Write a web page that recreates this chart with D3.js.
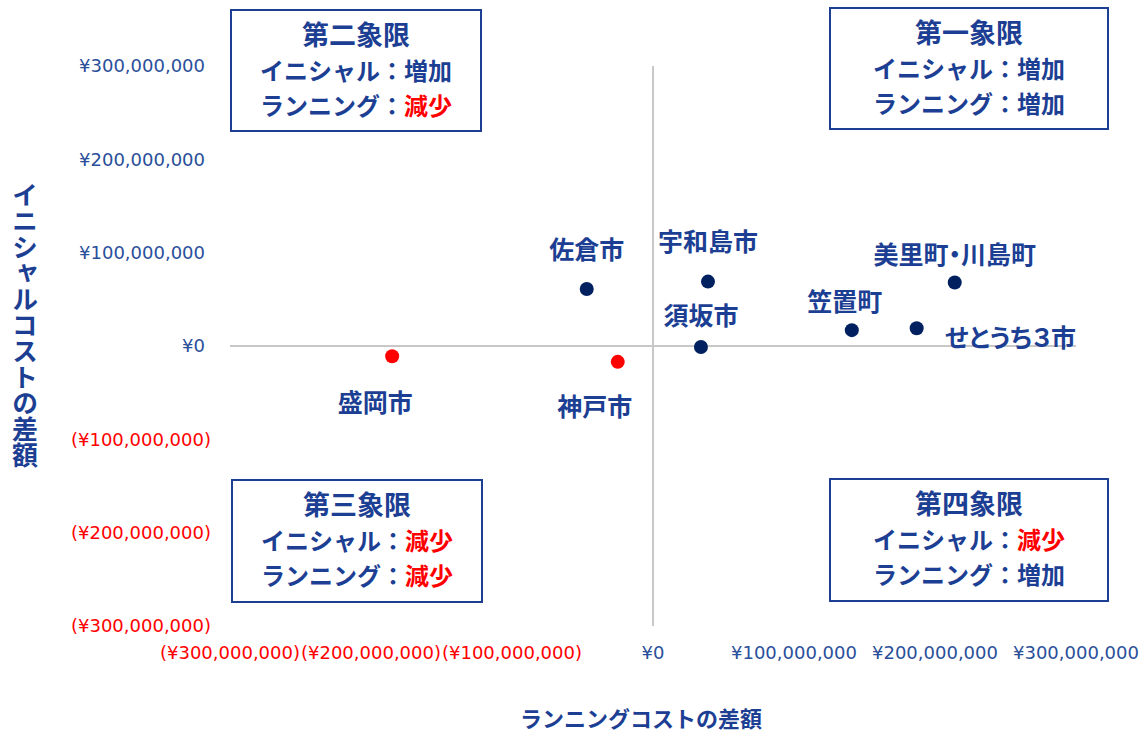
<!DOCTYPE html>
<html>
<head>
<meta charset="utf-8">
<script src="https://cdn.jsdelivr.net/npm/d3@7"></script>
<style>
  body { margin: 0; background: #fff; }
  svg { display: block; }
  .jp { font-family: "Noto Sans CJK JP", "Noto Sans", sans-serif; font-weight: bold; }
  .tick-label { font-family: "DejaVu Sans", Verdana, sans-serif; font-size: 18px; }
</style>
</head>
<body>
<div id="chart"></div>
<script>
// data
const cities = ["佐倉市", "宇和島市", "須坂市", "笠置町", "せとうち３市", "美里町・川島町", "盛岡市", "神戸市"];
const runningDiff = [-47e6, 39e6, 34e6, 141e6, 187e6, 214e6, -185e6, -25e6];
const initialDiff = [61e6, 69e6, -1e6, 17e6, 19e6, 68e6, -11e6, -17e6];
const tickValues = [-300e6, -200e6, -100e6, 0, 100e6, 200e6, 300e6];

// quadrant notes
const quadTitles = ["第一象限", "第二象限", "第三象限", "第四象限"];
const initialNote = ["増加", "増加", "減少", "減少"];
const runningNote = ["増加", "減少", "減少", "増加"];

const width = 1140, height = 732;
const navy = "#002060", textBlue = "#1c3f94", tickBlue = "#2a4f9a", red = "#ff0000";

const svg = d3.select("#chart").append("svg")
    .attr("width", width)
    .attr("height", height);

const x = d3.scaleLinear().domain([-300e6, 300e6]).range([230, 1076]);
const y = d3.scaleLinear().domain([-300e6, 300e6]).range([626, 66]);

// label format like Excel accounting: (¥100,000,000)
const fmt = v => v < 0 ? `(¥${d3.format(",")(-v)})` : `¥${d3.format(",")(v)}`;

// zero lines
svg.append("line")
    .attr("x1", x(-300e6)).attr("x2", x(300e6))
    .attr("y1", y(0)).attr("y2", y(0))
    .attr("stroke", "#c8c8c8").attr("stroke-width", 2);
svg.append("line")
    .attr("x1", x(0)).attr("x2", x(0))
    .attr("y1", y(300e6)).attr("y2", y(-300e6))
    .attr("stroke", "#c8c8c8").attr("stroke-width", 2);

// y tick labels (positives leave room for the closing paren)
svg.append("g")
    .selectAll("text")
    .data(tickValues)
    .join("text")
    .attr("class", "tick-label")
    .attr("x", d => d < 0 ? 211 : 205)
    .attr("y", d => y(d))
    .attr("dy", "0.35em")
    .attr("text-anchor", "end")
    .attr("fill", d => d < 0 ? red : tickBlue)
    .text(fmt);

// x tick labels (below the plot)
svg.append("g")
    .selectAll("text")
    .data(tickValues)
    .join("text")
    .attr("class", "tick-label")
    .attr("x", d => x(d))
    .attr("y", 653)
    .attr("dy", "0.35em")
    .attr("text-anchor", "middle")
    .attr("fill", d => d < 0 ? red : tickBlue)
    .text(fmt);

// axis titles
svg.append("text")
    .attr("class", "jp")
    .attr("x", 641)
    .attr("y", 719)
    .attr("dy", "0.35em")
    .attr("text-anchor", "middle")
    .attr("fill", textBlue)
    .style("font-size", "22px")
    .text("ランニングコストの差額");

svg.append("text")
    .attr("class", "jp")
    .attr("x", 25)
    .attr("y", 325)
    .attr("text-anchor", "middle")
    .attr("fill", textBlue)
    .style("font-size", "26px")
    .style("writing-mode", "vertical-rl")
    .style("text-orientation", "upright")
    .text("イニシャルコストの差額");

// points
const points = cities.map((c, i) => ({ name: c, rx: runningDiff[i], iy: initialDiff[i] }));

// label offsets (pixels) relative to each dot
const labelOffset = {
    "佐倉市": [0, -39], "宇和島市": [0, -39], "須坂市": [0, -31], "笠置町": [-7, -28],
    "せとうち３市": [94, 10], "美里町・川島町": [0, -27], "盛岡市": [-17, 47], "神戸市": [-23, 45]
};

svg.append("g")
    .selectAll("circle")
    .data(points)
    .join("circle")
    .attr("cx", d => x(d.rx))
    .attr("cy", d => y(d.iy))
    .attr("r", 7)
    .attr("fill", d => (d.rx < 0 && d.iy < 0) ? red : navy);

svg.append("g")
    .selectAll("text")
    .data(points)
    .join("text")
    .attr("class", "jp")
    .attr("x", d => x(d.rx) + labelOffset[d.name][0])
    .attr("y", d => y(d.iy) + labelOffset[d.name][1])
    .attr("dy", "0.35em")
    .attr("text-anchor", "middle")
    .attr("fill", textBlue)
    .style("font-size", "25px")
    .style("font-feature-settings", "'palt'")
    .text(d => d.name);

// quadrant boxes
const boxPos = [[830, 8, 278, 121], [231, 10, 250, 121], [232, 480, 250, 122], [830, 479, 278, 122]];

boxPos.forEach((b, i) => {
    const g = svg.append("g").attr("transform", `translate(${b[0]},${b[1]})`);
    g.append("rect")
        .attr("width", b[2]).attr("height", b[3])
        .attr("fill", "#fff")
        .attr("stroke", textBlue).attr("stroke-width", 2);
    const cx = b[2] / 2;
    g.append("text").attr("class", "jp")
        .attr("x", cx).attr("y", 26).attr("dy", "0.35em")
        .attr("text-anchor", "middle").attr("fill", textBlue)
        .style("font-size", "27px")
        .text(quadTitles[i]);
    const t1 = g.append("text").attr("class", "jp")
        .attr("x", cx).attr("y", 62).attr("dy", "0.35em")
        .attr("text-anchor", "middle").attr("fill", textBlue)
        .style("font-size", "24px");
    t1.append("tspan").text("イニシャル：");
    t1.append("tspan").attr("fill", initialNote[i] === "減少" ? red : textBlue).text(initialNote[i]);
    const t2 = g.append("text").attr("class", "jp")
        .attr("x", cx).attr("y", 97).attr("dy", "0.35em")
        .attr("text-anchor", "middle").attr("fill", textBlue)
        .style("font-size", "24px");
    t2.append("tspan").text("ランニング：");
    t2.append("tspan").attr("fill", runningNote[i] === "減少" ? red : textBlue).text(runningNote[i]);
});
</script>
</body>
</html>
